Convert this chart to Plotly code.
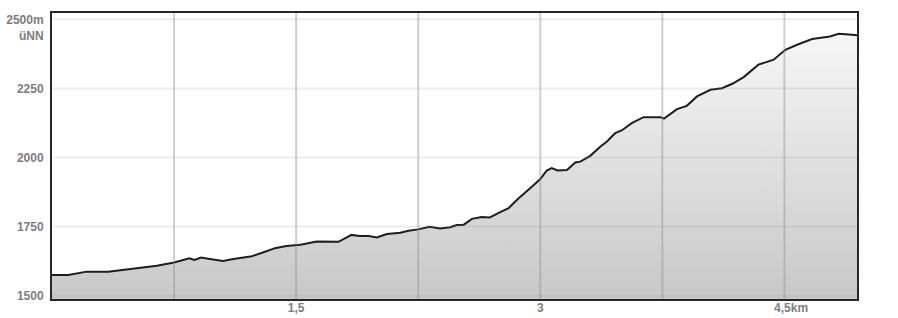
import plotly.graph_objects as go

km = [0.0, 0.10, 0.213, 0.345, 0.52, 0.644, 0.75, 0.844, 0.875, 0.916, 0.97, 1.05,
      1.115, 1.186, 1.228, 1.30, 1.37, 1.44, 1.50, 1.526, 1.627, 1.76, 1.84, 1.89,
      1.945, 1.996, 2.057, 2.14, 2.19, 2.25, 2.32, 2.385, 2.447, 2.488, 2.53, 2.58,
      2.64, 2.69, 2.754, 2.805, 2.857, 2.918, 2.96, 3.0, 3.04, 3.07, 3.106, 3.164,
      3.215, 3.246, 3.307, 3.37, 3.41, 3.46, 3.50, 3.564, 3.635, 3.74, 3.76, 3.84,
      3.90, 3.963, 4.045, 4.117, 4.18, 4.25, 4.34, 4.434, 4.506, 4.578, 4.67, 4.78,
      4.834, 4.896, 4.946]
elev = [1575, 1575, 1587, 1587, 1599, 1608, 1620, 1635, 1629, 1638, 1633, 1626,
        1633, 1641, 1643, 1657, 1672, 1680, 1684, 1684, 1696, 1695, 1720, 1716,
        1716, 1711, 1723, 1728, 1735, 1740, 1749, 1743, 1748, 1756, 1757, 1778,
        1785, 1783, 1802, 1817, 1847, 1877, 1901, 1922, 1953, 1962, 1953, 1955,
        1982, 1985, 2006, 2040, 2058, 2088, 2098, 2125, 2146, 2146, 2141, 2175,
        2187, 2221, 2245, 2251, 2267, 2291, 2336, 2354, 2390, 2408, 2429, 2438,
        2448, 2445, 2442]

x_ticks = [0.75, 1.5, 2.25, 3.0, 3.75, 4.5]
x_ticktext = ["", "1,5", "", "3", "", "&nbsp;&nbsp;&nbsp;&nbsp;4,5km"]
y_ticks = [1500, 1750, 2000, 2250, 2500]
y_ticktext = ["1500", "1750", "2000", "2250", "2500m"]
y_unit = "üNN"

x_range = [0, 4.946]
y_range = [1488, 2523]

label_font = dict(family="Liberation Sans, Arial, sans-serif", size=12,
                  color="#7d7d7d", weight="bold")

fig = go.Figure()
fig.add_trace(go.Scatter(
    x=km, y=elev, mode="lines",
    line=dict(color="#1e1e1e", width=2),
    fill="tozeroy",
    fillgradient=dict(type="vertical", start=y_range[0], stop=y_range[1],
                      colorscale=[[0, "rgb(200,200,200)"], [1, "rgb(250,250,250)"]]),
    hoverinfo="skip", showlegend=False,
))

shapes = []
for v in x_ticks:
    shapes.append(dict(type="line", xref="x", yref="paper", x0=v, x1=v, y0=0, y1=1,
                       line=dict(color="rgba(140,140,140,0.42)", width=2), layer="above"))
for v in y_ticks:
    shapes.append(dict(type="line", xref="paper", yref="y", x0=0, x1=1, y0=v, y1=v,
                       line=dict(color="rgba(140,140,140,0.17)", width=2), layer="above"))

fig.update_layout(
    width=898, height=318,
    margin=dict(l=52, r=41, t=13, b=19, autoexpand=False),
    paper_bgcolor="white", plot_bgcolor="white",
    shapes=shapes,
    annotations=[dict(text=y_unit, xref="paper", yref="y", x=0, y=y_ticks[-1],
                      xanchor="right", yanchor="middle", xshift=-6, yshift=-17,
                      showarrow=False, font=label_font)],
)
fig.update_xaxes(range=x_range, tickvals=x_ticks, ticktext=x_ticktext,
                 showgrid=False, zeroline=False, showline=True, mirror=True,
                 linecolor="#2b2626", linewidth=2, ticks="", tickfont=label_font,
                 ticklabelstandoff=-3, automargin=False)
fig.update_yaxes(range=y_range, tickvals=y_ticks, ticktext=y_ticktext,
                 showgrid=False, zeroline=False, showline=True, mirror=True,
                 linecolor="#2b2626", linewidth=2, ticks="", tickfont=label_font,
                 ticklabelstandoff=4, automargin=False)

fig.write_html("out.html")
